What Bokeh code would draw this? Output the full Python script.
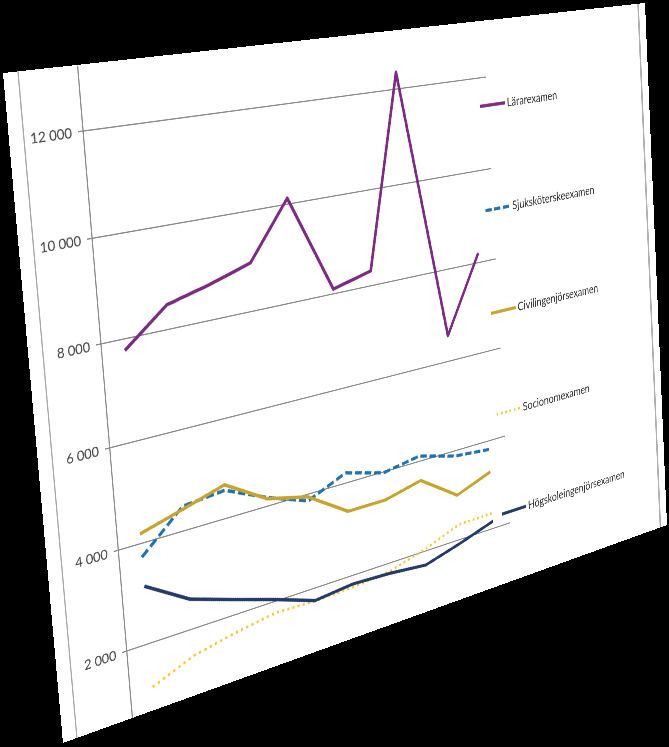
import numpy as np
from bokeh.plotting import figure
from bokeh.models import FixedTicker, Legend, LegendItem, Range1d, GlobalInlineStyleSheet
from bokeh.embed import file_html
from bokeh.resources import INLINE

# ---------------- data ----------------
categories = list(range(1, 11))          # ten years (category labels are cropped out in the reference)
lararexamen = [7780, 8480, 8700, 8970, 10120, 8100, 8310, 12350, 6560, 8210]
sjukskoterskeexamen = [3730, 4490, 4570, 4175, 3860, 4215, 3980, 4115, 3885, 3805]
civilingenjorsexamen = [4190, 4430, 4680, 4150, 3945, 3390, 3385, 3575, 3005, 3295]
socionomexamen = [1120, 1460, 1630, 1760, 1725, 1745, 1820, 2040, 2340, 2350]
hogskoleingenjorsexamen = [3150, 2610, 2320, 2040, 1735, 1815, 1775, 1690, 1910, 2165]
series_names = ["Lärarexamen", "Sjuksköterskeexamen", "Civilingenjörsexamen",
                "Socionomexamen", "Högskoleingenjörsexamen"]
y_ticks = [2000, 4000, 6000, 8000, 10000, 12000]
y_tick_labels = ["2 000", "4 000", "6 000", "8 000", "10 000", "12 000"]

# ---------------- perspective (CSS) geometry ----------------
FW, FH = 640, 490                       # flat chart (element) size
QUAD = [(3, 73), (645, 3), (667, 525), (63, 743)]      # where the flat chart's corners land
BW = max(q[0] for q in QUAD) - min(q[0] for q in QUAD)  # Bokeh lays out its canvas in the
BH = max(q[1] for q in QUAD) - min(q[1] for q in QUAD)  # transformed bounding box


def homography(src, dst):
    A = []
    for (x, y), (u, v) in zip(src, dst):
        A.append([x, y, 1, 0, 0, 0, -u * x, -u * y, -u])
        A.append([0, 0, 0, x, y, 1, -v * x, -v * y, -v])
    _, _, vt = np.linalg.svd(np.array(A, float))
    h = vt[-1].reshape(3, 3)
    return h / h[2, 2]


def apply(h, pt):
    u, v, w = h @ np.array([pt[0], pt[1], 1.0])
    return u / w, v / w


Hc = homography([(0, 0), (FW, 0), (FW, FH), (0, FH)], QUAD)
Hi = np.linalg.inv(Hc)


def to_flat(pt):
    return apply(Hi, pt)


g12l, g12r, g2l, g2r = [to_flat(p) for p in [(82, 131), (487, 76), (127, 650), (508, 523)]]
plot_left = (g12l[0] + g2l[0]) / 2
plot_right = (g12r[0] + g2r[0]) / 2
y12 = (g12l[1] + g12r[1]) / 2
y2 = (g2l[1] + g2r[1]) / 2
per_px = 10000.0 / (y2 - y12)
y_end = 12000 + y12 * per_px
y_start = 2000 - (FH - y2) * per_px

x_lo = min(categories) - 0.5
x_hi = max(categories) + 0.5
cat_per_px = (x_hi - x_lo) / (plot_right - plot_left)
x_end = x_lo + (BW - plot_left) * cat_per_px      # frame runs to the canvas edge (room for legend)

bl = [to_flat(p)[0] for p in [(16.7, 73.3), (76.7, 738)]]
br = [to_flat(p)[0] for p in [(637, 3), (660, 527)]]
border_l = sum(bl) / 2
border_r = sum(br) / 2

key_centers = [to_flat(p) for p in [(492.5, 102.3), (498.3, 205.7), (504.2, 310.5),
                                     (508.3, 410.3), (514.2, 509.8)]]
GW = 29
ITEM_H = 16
leg_left = np.mean([c[0] for c in key_centers]) - GW / 2
step = (key_centers[-1][1] - key_centers[0][1]) / 4
leg_bottom = key_centers[-1][1] + ITEM_H / 2

FONT = "Lato"
GRID = "#8c8c8c"

p = figure(width=FW, height=FH, output_backend="svg", toolbar_location=None,
           x_axis_location=None, x_range=Range1d(x_lo, x_end), y_range=Range1d(y_start, y_end),
           min_border_left=int(round(plot_left)), min_border_right=0,
           min_border_top=0, min_border_bottom=int(BH - FH))
p.border_fill_color = None
p.background_fill_color = None
p.outline_line_color = None
p.xgrid.grid_line_color = None
p.ygrid.grid_line_color = None

p.yaxis.ticker = FixedTicker(ticks=y_ticks, minor_ticks=[])
p.yaxis.major_label_overrides = {t: l for t, l in zip(y_ticks, y_tick_labels)}
p.yaxis.axis_line_color = GRID
p.yaxis.major_tick_line_color = GRID
p.yaxis.major_tick_out = 4
p.yaxis.major_tick_in = 0
p.yaxis.minor_tick_line_color = None
p.yaxis.major_label_standoff = 5
p.yaxis.major_label_text_font = FONT
p.yaxis.major_label_text_font_size = "10.5px"
p.yaxis.major_label_text_color = "#404040"

# horizontal gridlines spanning the category extent only (plot area ends before the legend)
p.segment(x0=[x_lo] * len(y_ticks), x1=[x_hi] * len(y_ticks), y0=y_ticks, y1=y_ticks,
          line_color=GRID, line_width=1)

LW = 2.7
r1 = p.line(categories, lararexamen, line_color="#7D2A85", line_width=LW, line_join="round")
r2 = p.line(categories, sjukskoterskeexamen, line_color="#1C73B8", line_width=LW,
            line_dash="7 3", line_join="round")
r3 = p.line(categories, civilingenjorsexamen, line_color="#C8A42C", line_width=LW, line_join="round")
r4 = p.line(categories, socionomexamen, line_color="#FFC52E", line_width=2.2,
            line_dash="2 3", line_join="round")
r5 = p.line(categories, hogskoleingenjorsexamen, line_color="#233A6B", line_width=LW, line_join="round")

legend = Legend(items=[LegendItem(label=n, renderers=[r]) for n, r in
                       zip(series_names, [r1, r2, r3, r4, r5])],
                location=(float(leg_left - plot_left), float(FH - leg_bottom)),
                orientation="vertical", padding=0, margin=0, border_line_color=None,
                background_fill_alpha=0, glyph_width=GW, glyph_height=ITEM_H,
                label_height=ITEM_H, spacing=int(round(step - ITEM_H)), label_standoff=2,
                label_text_font=FONT, label_text_font_size="10.5px", label_text_color="#303030")
p.add_layout(legend, "center")

h = Hc
m = [h[0, 0], h[1, 0], 0, h[2, 0], h[0, 1], h[1, 1], 0, h[2, 1], 0, 0, 1, 0, h[0, 2], h[1, 2], 0, h[2, 2]]
bg = ("linear-gradient(to right, transparent {a:.1f}px, #a8a8a8 {a:.1f}px, #a8a8a8 {b:.1f}px, transparent {b:.1f}px), "
      "linear-gradient(to right, transparent {c:.1f}px, #b0b0b0 {c:.1f}px, #b0b0b0 {d:.1f}px, transparent {d:.1f}px), #ffffff"
      ).format(a=border_l, b=border_l + 1.2, c=border_r, d=border_r + 1.8)
p.styles = {
    "transform": "matrix3d(" + ",".join("%.10g" % v for v in m) + ")",
    "transform-origin": "0 0",
    "background": bg,
    "overflow": "hidden",
}
p.stylesheets = [GlobalInlineStyleSheet(css="html,body{margin:0;padding:0;background:#000;overflow:hidden}")]

open("out.html", "w").write(file_html(p, INLINE))
